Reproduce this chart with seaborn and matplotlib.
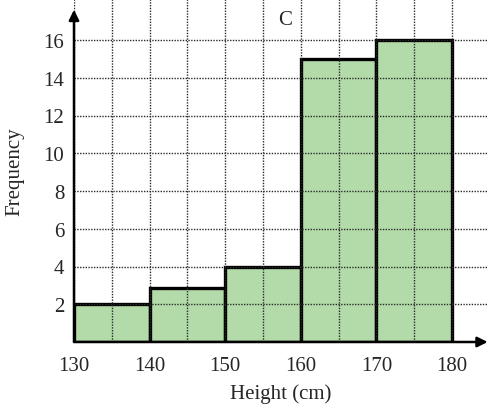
import numpy as np
import pandas as pd
import matplotlib
matplotlib.use("Agg")
import matplotlib.pyplot as plt
import seaborn as sns

# Class intervals and frequencies
bin_edges = [130, 140, 150, 160, 170, 180]
frequencies = [2, 2.85, 4, 15, 16]
x_ticks = [130, 140, 150, 160, 170, 180]
y_ticks = [2, 4, 6, 8, 10, 12, 14, 16]
title_text = "C"

sns.set_style("white")
plt.rcParams["font.family"] = ["Liberation Serif", "DejaVu Serif"]

midpoints = [(a + b) / 2 for a, b in zip(bin_edges[:-1], bin_edges[1:])]
df = pd.DataFrame({"height": midpoints, "freq": frequencies})

fig = plt.figure(figsize=(4.88, 4.10), dpi=100)
ax = fig.add_axes([74 / 488, 67 / 410, 414 / 488, 343 / 410])

sns.histplot(data=df, x="height", weights="freq", bins=bin_edges,
             color="#b3dbaa", alpha=1.0, edgecolor="black", linewidth=2.4,
             ax=ax)

x_max = 130 + 414 / 7.56
y_max = 343 / 18.875
ax.set_xlim(130, x_max)
ax.set_ylim(0, y_max)

# dotted grid every 5 cm and every 2 units, drawn over the bars
ax.set_xticks(np.arange(135, 185, 5), minor=True)
ax.set_xticks(x_ticks)
ax.set_yticks([0] + y_ticks)
ax.set_yticklabels([""] + [str(v) for v in y_ticks])
ax.grid(True, which="both", linestyle=(0, (1, 1)), color="#2a2a2a",
        linewidth=1.0)
ax.set_axisbelow(False)

for s in ax.spines.values():
    s.set_visible(False)

ax.tick_params(axis="both", which="major", direction="out", length=5,
               width=1.4, color="black", labelsize=15, pad=2)
ax.tick_params(axis="x", which="minor", length=0)
ax.tick_params(axis="x", which="major", pad=5)

# axes with arrow heads
ax.annotate("", xy=(130, 17.6), xytext=(130, 0), xycoords="data",
            arrowprops=dict(arrowstyle="-|>", color="black", lw=1.8,
                            mutation_scale=15, shrinkA=0, shrinkB=0),
            annotation_clip=False)
ax.annotate("", xy=(x_max - 0.05, 0), xytext=(130, 0), xycoords="data",
            arrowprops=dict(arrowstyle="-|>", color="black", lw=1.8,
                            mutation_scale=15, shrinkA=0, shrinkB=0),
            annotation_clip=False)

ax.set_xlabel("Height (cm)", fontsize=15, labelpad=6)
ax.set_ylabel("Frequency", fontsize=15, labelpad=14)
ax.text(157.9, 17.1, title_text, fontsize=15, ha="center", va="center")

fig.savefig("out.png", dpi=100)
